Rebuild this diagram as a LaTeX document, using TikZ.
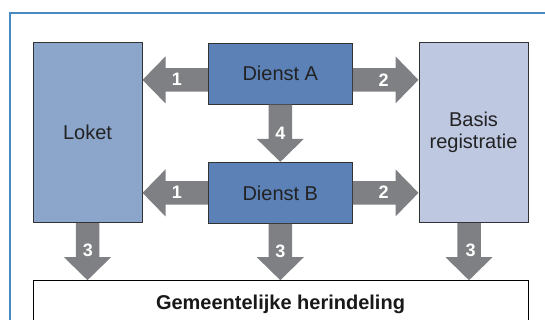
\documentclass[tikz,border=0pt]{standalone}
\usepackage{fontspec}
\setmainfont{Liberation Sans}
\usetikzlibrary{calc}
\definecolor{frameblue}{HTML}{4A88C0}
\definecolor{loketfill}{HTML}{8BA5CB}
\definecolor{dienstfill}{HTML}{5B81B6}
\definecolor{basisfill}{HTML}{BEC8E1}
\definecolor{arrowgray}{HTML}{7F8083}
\definecolor{boxline}{HTML}{333333}
\definecolor{txt}{HTML}{222222}
\tikzset{
  box/.style={draw=boxline, line width=1pt, rectangle, inner sep=0pt, text=txt,
    font=\fontsize{20}{23}\selectfont, align=center},
  fat/.style={fill=arrowgray, to path={let \p1=(\tikztostart), \p2=(\tikztotarget),
    \n1={veclen(\x2-\x1,\y2-\y1)}, \n2={(\x2-\x1)/\n1}, \n3={(\y2-\y1)/\n1} in
    ({\x1-11.75*\n3},{\y1+11.75*\n2})
    -- ({\x2-23*\n2-11.75*\n3},{\y2-23*\n3+11.75*\n2})
    -- ({\x2-23*\n2-23.5*\n3},{\y2-23*\n3+23.5*\n2})
    -- (\p2)
    -- ({\x2-23*\n2+23.5*\n3},{\y2-23*\n3-23.5*\n2})
    -- ({\x2-23*\n2+11.75*\n3},{\y2-23*\n3-11.75*\n2})
    -- ({\x1+11.75*\n3},{\y1-11.75*\n2}) -- cycle}},
  num/.style={text=white, font=\fontsize{18}{20}\selectfont\bfseries, inner sep=0pt}
}
\begin{document}
\begin{tikzpicture}[x=1pt,y=1pt]
\useasboundingbox (0,0) rectangle (545,-320);
\clip (0,0) rectangle (545,-320);
\draw[frameblue, line width=2pt] (10.3,-340) -- (10.3,-13.3) -- (560,-13.3);
% boxes
\node[box, fill=loketfill, minimum width=109pt, minimum height=180pt] (lok) at (87.5,-132.7) {Loket};
\node[box, fill=dienstfill, minimum width=144pt, minimum height=61pt] (dA) at (280.3,-73.6) {Dienst A};
\node[box, fill=dienstfill, minimum width=144pt, minimum height=61pt] (dB) at (280.3,-192.9) {Dienst B};
\node[box, fill=basisfill, minimum width=109pt, minimum height=180pt] (bas) at (473.5,-132.7) {Basis\\[-1pt]registratie};
\node[box, draw=black, fill=white, minimum width=495pt, minimum height=46.6pt,
  font=\fontsize{20}{23}\selectfont\bfseries, text=black!90] (bot) at (280.5,-304) {Gemeentelijke herindeling};
% connectors
\coordinate (a1s) at ([yshift=-6.3pt]dA.west);
\coordinate (a2s) at (a1s -| dA.east);
\coordinate (c3s) at ([xshift=-4.5pt]bas.south);
\path[fat] (a1s) to (a1s -| lok.east);
\path[fat] (a2s) to (a2s -| bas.west);
\path[fat] (dB.west) to (dB.west -| lok.east);
\path[fat] (dB.east) to (dB.east -| bas.west);
\path[fat] (dA.south) to (dB.north);
\path[fat] (lok.south) to (lok.south |- bot.north);
\path[fat] (dB.south) to (dB.south |- bot.north);
\path[fat] (c3s) to (c3s |- bot.north);
% labels
\node[num] (n1a) at (177,-79.5) {1};
\node[num] (n1b) at (177,-192) {1};
\node[num] (n2a) at (383.5,-80) {2};
\node[num] (n2b) at (383.5,-192.5) {2};
\node[num] (n4) at (280.3,-133) {4};
\node[num] (n3a) at (88,-250) {3};
\node[num] (n3b) at (280.3,-251.5) {3};
\node[num] (n3c) at (470.5,-250.5) {3};
\end{tikzpicture}
\end{document}
